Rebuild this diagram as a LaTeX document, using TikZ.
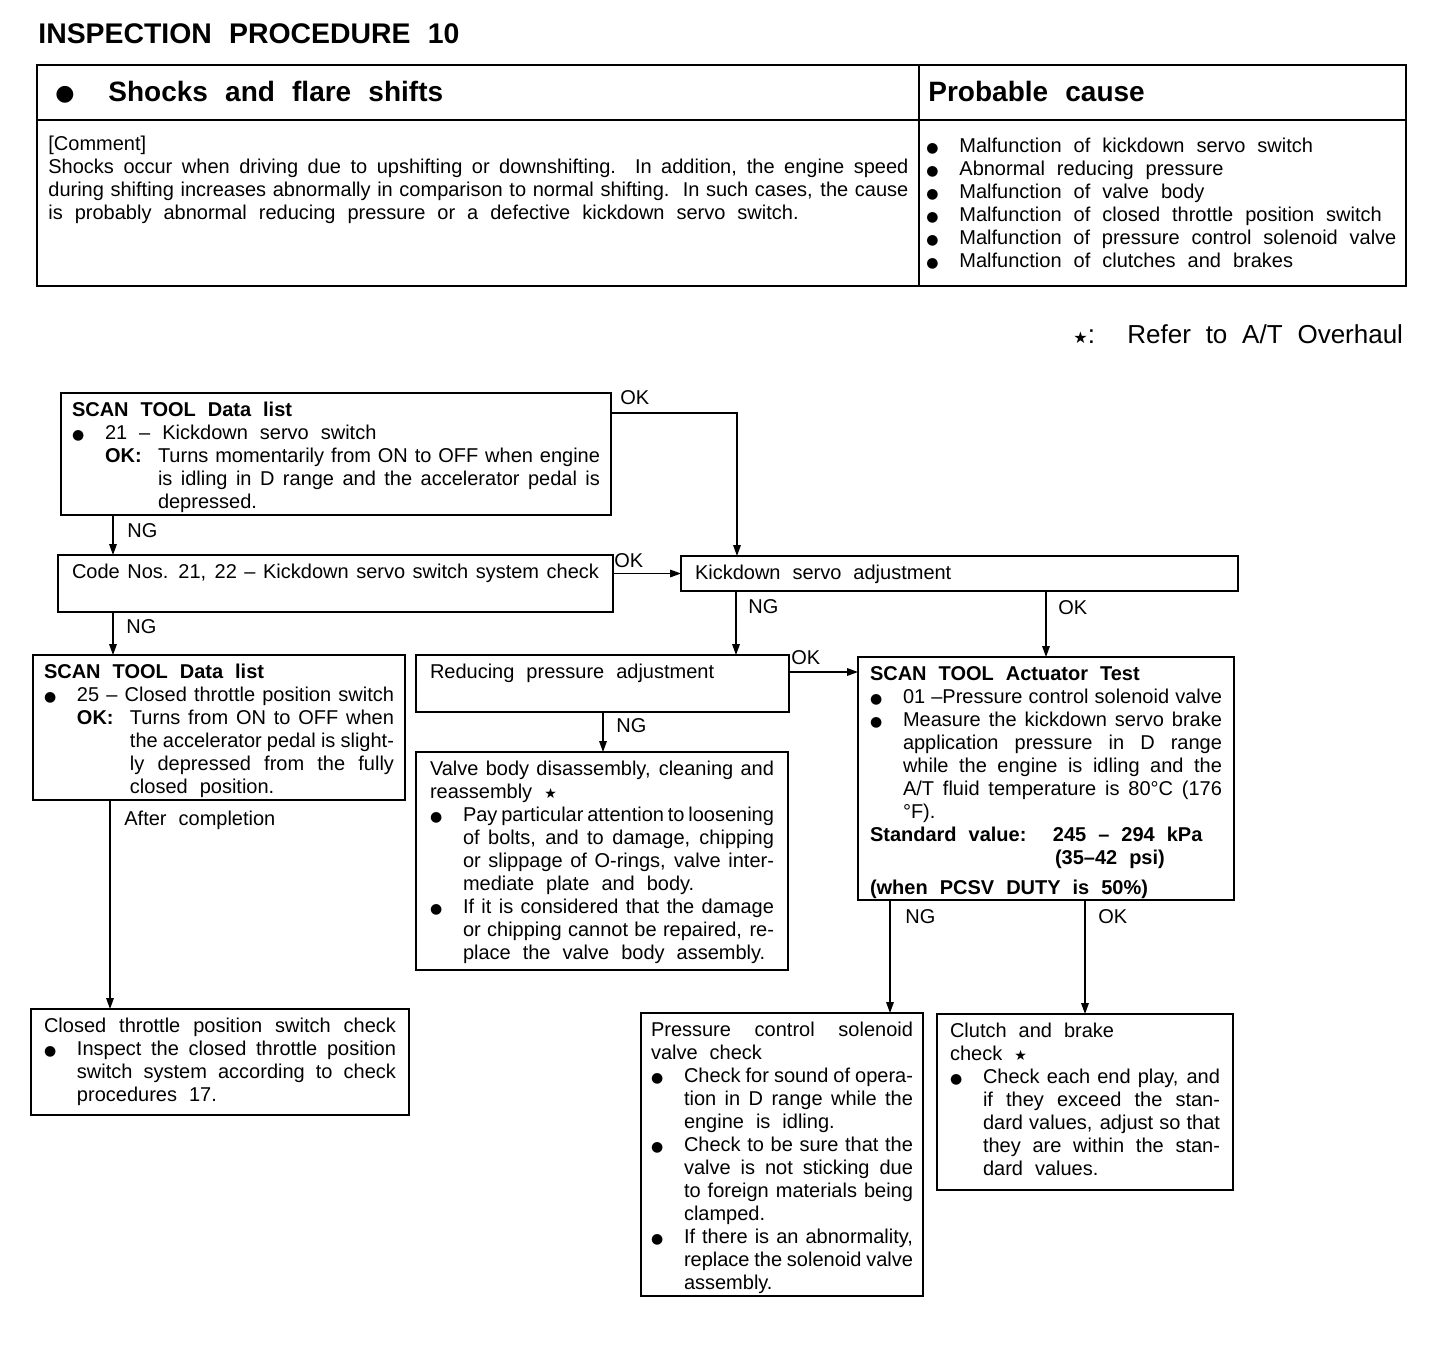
\documentclass[tikz,border=0pt]{standalone}
\usepackage{fontspec}
\setmainfont{Liberation Sans}
\newfontfamily\symfont{DejaVu Sans}
\usetikzlibrary{arrows.meta}

% fonts with the wide word spaces of the print
\newcommand{\wsp}{\spaceskip=6pt plus 3pt minus 5pt\relax}
\newcommand{\bodyfont}{\fontsize{10pt}{11.5pt}\selectfont\wsp}
\newcommand{\headfont}[1]{\bfseries\fontsize{#1}{16pt}\selectfont\spaceskip=8.6pt plus 2pt minus 2pt\relax}
\newcommand{\notefont}{\fontsize{13pt}{15pt}\selectfont\spaceskip=7.4pt plus 2pt minus 2pt\relax}
% line macros for the boxed texts
\newcommand{\dotm}{{\symfont\fontsize{7pt}{7pt}\selectfont ●}}
\newcommand{\starm}{{\symfont\fontsize{7pt}{7pt}\selectfont ★}}
\newcommand{\jline}[2][0pt]{\wsp\noindent\hspace*{#1}\makebox[\dimexpr\linewidth-#1\relax][s]{#2}\par}
\newcommand{\rline}[2][0pt]{\wsp\noindent\hspace*{#1}#2\par}
\newcommand{\bjline}[1]{\wsp\noindent\makebox[16.5pt][l]{\dotm}\makebox[\dimexpr\linewidth-16.5pt\relax][s]{#1}\par}
\newcommand{\brline}[1]{\wsp\noindent\makebox[16.5pt][l]{\dotm}#1\par}
\newcommand{\okline}[1]{\wsp\noindent\hspace*{16.5pt}\makebox[26.5pt][l]{\textbf{OK:}}\makebox[\dimexpr\linewidth-43pt\relax][s]{#1}\par}

\tikzset{
  stepbox/.style={draw, rectangle, line width=0.9pt, anchor=north west, outer sep=0pt,
    inner xsep=5.5pt, inner ysep=3pt, text height=8.5pt, font=\bodyfont},
  arr/.style={-{Triangle[length=5.5pt,width=3.8pt]}, line width=0.7pt},
  lbl/.style={anchor=base west, inner sep=0pt, font=\bodyfont},
  txt/.style={anchor=base west, inner sep=0pt, font=\bodyfont}
}

\begin{document}
\begin{tikzpicture}[x=0.5pt,y=-0.5pt]
\useasboundingbox (0,0) rectangle (1456,1360);

% header table
\node[anchor=base west, inner sep=0pt, font=\headfont{14.2pt}] (title) at (38,43) {INSPECTION PROCEDURE 10};
\draw[line width=1.2pt] (37,65) rectangle (1406,286);
\draw[line width=1pt] (37,120) -- (1406,120);
\draw[line width=0.8pt] (919,65) -- (919,286);
\node[anchor=base west, inner sep=0pt] (hdot) at (55,100) {\symfont\fontsize{11pt}{11pt}\selectfont ●};
\node[anchor=base west, inner sep=0pt, font=\headfont{14pt}] (hsym) at (108,101) {Shocks and flare shifts};
\node[anchor=base west, inner sep=0pt, font=\headfont{14pt}] (hcause) at (928,101) {Probable cause};
\node[txt, text width=430pt] (cmt) at (48,150) {
  \rline{[Comment]}
  \jline{Shocks occur when driving due to upshifting or downshifting.\ \ In addition, the engine speed}
  \jline{during shifting increases abnormally in comparison to normal shifting.\ \ In such cases, the cause}
  \rline{is probably abnormal reducing pressure or a defective kickdown servo switch.}};
\node[txt, text width=235pt] (cause) at (926,152) {
  \brline{Malfunction of kickdown servo switch}
  \brline{Abnormal reducing pressure}
  \brline{Malfunction of valve body}
  \brline{Malfunction of closed throttle position switch}
  \brline{Malfunction of pressure control solenoid valve}
  \brline{Malfunction of clutches and brakes}};
\node[anchor=base west, inner sep=0pt, font=\notefont] (refer) at (1073,343)
  {\makebox[27pt][l]{{\symfont\fontsize{8pt}{8pt}\selectfont ★}:}Refer to A/T Overhaul};

% flow boxes
\node[stepbox, text width=264pt, text depth=46.5pt] (scanA) at (61,393) {
  \rline{\textbf{SCAN TOOL Data list}}
  \brline{21 -- Kickdown servo switch}
  \okline{Turns momentarily from ON to OFF when engine}
  \jline[43pt]{is idling in D range and the accelerator pedal is}
  \rline[43pt]{depressed.}};
\node[stepbox, inner xsep=7pt, text width=263.5pt, text depth=14pt] (codeB) at (58,555) {
  \jline{Code Nos. 21, 22 -- Kickdown servo switch system check}};
\node[stepbox, inner xsep=7pt, text width=264.5pt, text depth=3pt] (kdadj) at (681,556) {
  \rline{Kickdown servo adjustment}};
\node[stepbox, text width=175pt, text depth=58pt] (scanD) at (33,655) {
  \rline{\textbf{SCAN TOOL Data list}}
  \bjline{25 -- Closed throttle position switch}
  \okline{Turns from ON to OFF when}
  \jline[43pt]{the accelerator pedal is slight-}
  \jline[43pt]{ly depressed from the fully}
  \rline[43pt]{closed position.}};
\node[stepbox, inner xsep=7pt, text width=172.5pt, text depth=14pt] (redp) at (416,655) {
  \rline{Reducing pressure adjustment}};
\node[stepbox, inner xsep=7pt, text width=172pt, text depth=94.5pt] (valveF) at (416,752) {
  \jline{Valve body disassembly, cleaning and}
  \rline{reassembly \starm}
  \bjline{Pay particular attention to loosening}
  \jline[16.5pt]{of bolts, and to damage, chipping}
  \jline[16.5pt]{or slippage of O-rings, valve inter-}
  \rline[16.5pt]{mediate plate and body.}
  \bjline{If it is considered that the damage}
  \jline[16.5pt]{or chipping cannot be repaired, re-}
  \rline[16.5pt]{place the valve body assembly.}};
\node[stepbox, inner xsep=6pt, text width=176pt, text depth=107pt] (actG) at (858,657) {
  \rline{\textbf{SCAN TOOL Actuator Test}}
  \bjline{01 --Pressure control solenoid valve}
  \bjline{Measure the kickdown servo brake}
  \jline[16.5pt]{application pressure in D range}
  \jline[16.5pt]{while the engine is idling and the}
  \jline[16.5pt]{A/T fluid temperature is 80°C (176}
  \rline[16.5pt]{°F).}
  \rline{\textbf{\makebox[91.5pt][l]{Standard value:}245 -- 294 kPa}}
  \rline[92.5pt]{\textbf{(35--42 psi)}}
  \vspace{3.5pt}
  \rline{\textbf{(when PCSV DUTY is 50\%)}}};
\node[stepbox, inner xsep=6.5pt, text width=176pt, text depth=38.5pt] (closedH) at (31,1009) {
  \jline{Closed throttle position switch check}
  \bjline{Inspect the closed throttle position}
  \jline[16.5pt]{switch system according to check}
  \rline[16.5pt]{procedures 17.}};
\node[stepbox, inner xsep=5pt, text width=131pt, text depth=127pt] (pcsvI) at (641,1013) {
  \jline{Pressure control solenoid}
  \rline{valve check}
  \bjline{Check for sound of opera-}
  \jline[16.5pt]{tion in D range while the}
  \rline[16.5pt]{engine is idling.}
  \bjline{Check to be sure that the}
  \jline[16.5pt]{valve is not sticking due}
  \jline[16.5pt]{to foreign materials being}
  \rline[16.5pt]{clamped.}
  \bjline{If there is an abnormality,}
  \jline[16.5pt]{replace the solenoid valve}
  \rline[16.5pt]{assembly.}};
\node[stepbox, inner xsep=6.5pt, text width=135pt, text depth=73.5pt] (clutchJ) at (937,1014) {
  \rline{Clutch and brake}
  \rline{check \starm}
  \bjline{Check each end play, and}
  \jline[16.5pt]{if they exceed the stan-}
  \jline[16.5pt]{dard values, adjust so that}
  \jline[16.5pt]{they are within the stan-}
  \rline[16.5pt]{dard values.}};

% connectors
\coordinate (okA) at (737,413);
\coordinate (xab) at (113,0);
\coordinate (xce) at (736,0);
\coordinate (xcg) at (1046,0);
\coordinate (yeg) at (0,672);
\coordinate (xef) at (603,0);
\coordinate (xdh) at (110,0);
\coordinate (xgi) at (890,0);
\coordinate (xgj) at (1085,0);

\draw[arr] (scanA.east |- okA) -| (kdadj.north -| okA);
\draw[arr] (scanA.south -| xab) -- (codeB.north -| xab);
\draw[arr] (codeB.east |- kdadj.west) -- (kdadj.west);
\draw[arr] (codeB.south -| xab) -- (scanD.north -| xab);
\draw[arr] (kdadj.south -| xce) -- (redp.north -| xce);
\draw[arr] (kdadj.south -| xcg) -- (actG.north -| xcg);
\draw[arr] (redp.east |- yeg) -- (actG.west |- yeg);
\draw[arr] (redp.south -| xef) -- (valveF.north -| xef);
\draw[arr] (scanD.south -| xdh) -- (closedH.north -| xdh);
\draw[arr] (actG.south -| xgi) -- (pcsvI.north -| xgi);
\draw[arr] (actG.south -| xgj) -- (clutchJ.north -| xgj);

\node[lbl] (lokA) at (620,404) {OK};
\node[lbl] (lngA) at (127,537) {NG};
\node[lbl] (lokB) at (614,567) {OK};
\node[lbl] (lngB) at (126,633) {NG};
\node[lbl] (lngC) at (748,613) {NG};
\node[lbl] (lokC) at (1058,614) {OK};
\node[lbl] (lokE) at (791,664) {OK};
\node[lbl] (lngE) at (616,732) {NG};
\node[lbl] (ldone) at (124,825) {After completion};
\node[lbl] (lngG) at (905,923) {NG};
\node[lbl] (lokG) at (1098,923) {OK};
\end{tikzpicture}
\end{document}
